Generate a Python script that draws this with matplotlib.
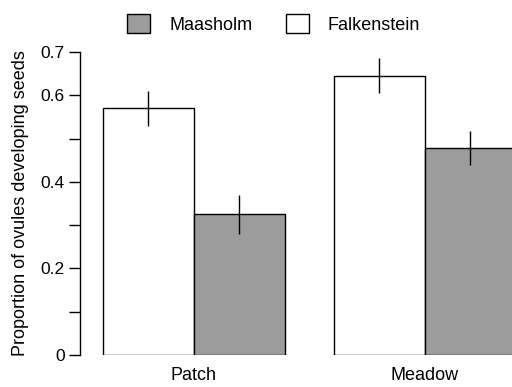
import matplotlib.pyplot as plt
import numpy as np
from matplotlib.patches import Patch

plt.rcParams['font.family'] = ['Liberation Sans', 'DejaVu Sans']

# data
habitats = ['Patch', 'Meadow']
falkenstein = [0.570, 0.645]
falkenstein_err = [0.040, 0.040]
maasholm = [0.325, 0.478]
maasholm_err = [0.045, 0.040]

yticks = [0, 0.1, 0.2, 0.3, 0.4, 0.5, 0.6, 0.7]
ytick_labels = ['0', '', '0.2', '', '0.4', '', '0.6', '0.7']

grey = '#9c9c9c'
width = 0.394
x = np.arange(len(habitats))

fig = plt.figure(figsize=(5.12, 3.87), dpi=100)
ax = fig.add_axes([80 / 512, 32 / 387, 432 / 512, 303 / 387])

ax.bar(x - width / 2, falkenstein, width, color='white', edgecolor='black', linewidth=1)
ax.bar(x + width / 2, maasholm, width, color=grey, edgecolor='black', linewidth=1)
ax.errorbar(x - width / 2, falkenstein, yerr=falkenstein_err, fmt='none',
            ecolor='black', elinewidth=1, capsize=0, clip_on=False)
ax.errorbar(x + width / 2, maasholm, yerr=maasholm_err, fmt='none',
            ecolor='black', elinewidth=1, capsize=0, clip_on=False)

ax.set_xlim(-0.4935, 1.377)
ax.set_ylim(0, 0.7)

for side in ['top', 'right', 'bottom']:
    ax.spines[side].set_visible(False)
ax.spines['left'].set_linewidth(1)

ax.set_yticks(yticks)
ax.set_yticklabels(ytick_labels, fontsize=12.5)
ax.tick_params(axis='y', length=8, width=1, pad=3)
ax.set_xticks(x)
ax.set_xticklabels(habitats, fontsize=13)
ax.tick_params(axis='x', length=0, pad=9)

ax.set_ylabel('Proportion of ovules developing seeds', fontsize=13, labelpad=8)

handles = [Patch(facecolor=grey, edgecolor='black', linewidth=1, label='Maasholm'),
           Patch(facecolor='white', edgecolor='black', linewidth=1, label='Falkenstein')]
fig.legend(handles=handles, loc='upper center', bbox_to_anchor=(0.535, 1.005),
           ncol=2, frameon=False, fontsize=13, handlelength=1.25, handleheight=1.25,
           columnspacing=1.9, handletextpad=1.05)

fig.savefig('out.png', dpi=100)
